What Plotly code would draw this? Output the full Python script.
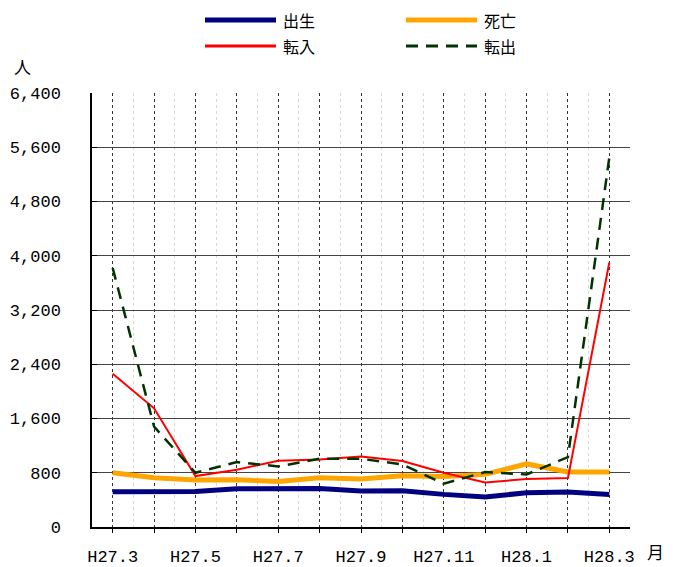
import plotly.graph_objects as go

months = ["H27.3", "H27.4", "H27.5", "H27.6", "H27.7", "H27.8", "H27.9",
          "H27.10", "H27.11", "H27.12", "H28.1", "H28.2", "H28.3"]
tick_labels = ["H27.3", "", "H27.5", "", "H27.7", "", "H27.9",
               "", "H27.11", "", "H28.1", "", "H28.3"]
births = [520, 520, 525, 565, 574, 569, 530, 535, 481, 442, 506, 515, 481]
deaths = [800, 726, 692, 697, 672, 726, 707, 756, 746, 776, 930, 810, 810]
move_in = [2260, 1750, 751, 844, 977, 996, 1040, 972, 800, 658, 707, 721, 3900]
move_out = [3820, 1480, 800, 957, 893, 1006, 1006, 923, 638, 810, 775, 1030, 5450]
y_ticks = [0, 800, 1600, 2400, 3200, 4000, 4800, 5600, 6400]
y_tick_text = ["0", "800", "1,600", "2,400", "3,200", "4,000", "4,800", "5,600", "6,400"]

series = [
    ("出生", births, "#000080", 5, "solid"),
    ("死亡", deaths, "#FFA500", 5, "solid"),
    ("転入", move_in, "#FF0000", 2, "solid"),
    ("転出", move_out, "#003300", 2.5, "12px,8px"),
]

FONT = "Noto Sans CJK JP"
TICKFONT = "Liberation Mono"
OFF = 8  # page body margin
W, H = 681 - 2 * OFF, 567 - OFF
L, R, T, B = 92 - OFF, 630 - OFF, 93 - OFF, 527 - OFF

x_idx = list(range(len(months)))

fig = go.Figure()
for name, vals, color, width, dash in series:
    fig.add_trace(go.Scatter(
        x=x_idx, y=vals, name=name, mode="lines",
        line=dict(color=color, width=width, dash=dash),
        customdata=months, hovertemplate="%{customdata}: %{y}<extra>" + name + "</extra>",
        showlegend=False,
    ))

def px_x(px):
    return (px - OFF - L) / (R - L)

def px_y(py):
    return (B - (py - OFF)) / (B - T)

shapes = []
annotations = []
legend_pos = [(205, 20), (406, 20), (205, 46), (406, 46)]
for (name, vals, color, width, dash), (lx, ly) in zip(series, legend_pos):
    shapes.append(dict(type="line", xref="paper", yref="paper",
                       x0=px_x(lx), x1=px_x(lx + 71), y0=px_y(ly), y1=px_y(ly),
                       line=dict(color=color, width=width if width > 3 else 3,
                                 dash=dash)))
    annotations.append(dict(text=name, xref="paper", yref="paper",
                            x=px_x(lx + 76), y=px_y(ly), xanchor="left", yanchor="middle",
                            showarrow=False, font=dict(family=FONT, size=16, color="#000")))

annotations.append(dict(text="人", xref="paper", yref="paper", x=px_x(22), y=px_y(67),
                        xanchor="center", yanchor="middle", showarrow=False,
                        font=dict(family=FONT, size=17, color="#000")))
annotations.append(dict(text="月", xref="paper", yref="paper", x=px_x(655), y=px_y(551),
                        xanchor="center", yanchor="middle", showarrow=False,
                        font=dict(family=FONT, size=17, color="#000")))

fig.update_layout(
    width=W, height=H,
    margin=dict(l=L, r=W - R, t=T, b=H - B, pad=0),
    paper_bgcolor="white", plot_bgcolor="white",
    font=dict(family=FONT, size=16, color="#000"),
    shapes=shapes, annotations=annotations,
    xaxis=dict(
        range=[-0.5, len(months) - 0.5],
        tickmode="array", tickvals=x_idx, ticktext=tick_labels,
        showgrid=True, gridcolor="#333", griddash="dot", gridwidth=1,
        minor=dict(tickmode="linear", tick0=0.5, dtick=1, showgrid=True,
                   gridcolor="#d8d8d8", gridwidth=1),
        showline=True, linecolor="#000", linewidth=1.5,
        ticks="outside", ticklen=4, tickcolor="#000",
        tickfont=dict(family=TICKFONT, size=17, color="#000"),
        ticklabelstandoff=9, zeroline=False, automargin=False,
    ),
    yaxis=dict(
        range=[0, 6400],
        tickmode="array", tickvals=y_ticks, ticktext=y_tick_text,
        showgrid=True, gridcolor="#444", gridwidth=1,
        showline=True, linecolor="#000", linewidth=1.5,
        ticks="inside", ticklen=5, tickcolor="#000",
        tickfont=dict(family=TICKFONT, size=17, color="#000"),
        ticklabelstandoff=26, zeroline=False, automargin=False,
    ),
)

fig.write_html("out.html")
